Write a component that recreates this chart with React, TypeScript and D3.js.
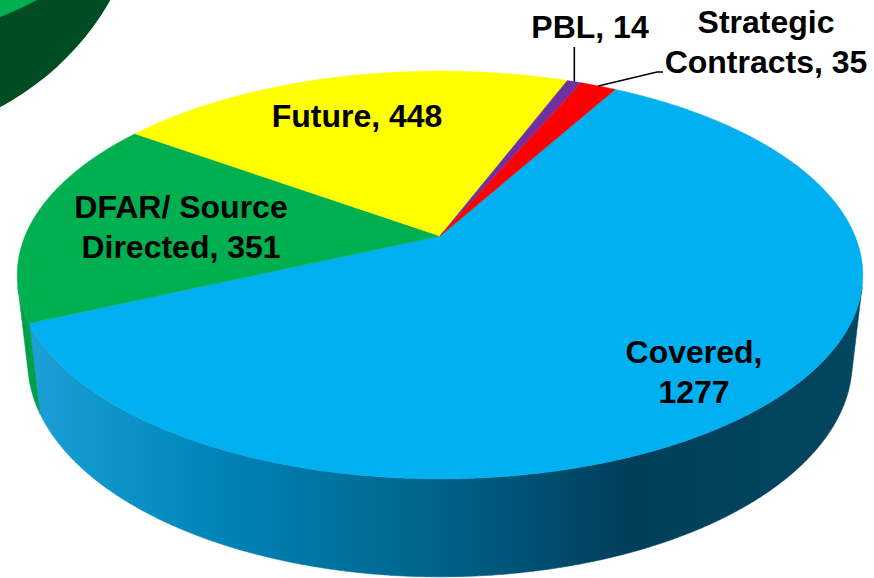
import React, { useEffect, useRef } from 'react'
import * as d3 from 'd3'

// slices, in the order they run clockwise from the start angle
const labels = ['Covered', 'DFAR/ Source Directed', 'Future', 'PBL', 'Strategic Contracts']
const values = [1277, 351, 448, 14, 35]
const colors = ['#00b0f0', '#00b050', '#ffff00', '#7030a0', '#ff0000']
const wallColors = ['url(#wallBlue)', '#00a04a', '#e6e600', '#5e2888', '#d90000']
// words kept on the first line of each label (0 = one line)
const breakAfter = [1, 2, 0, 0, 1]

const W = 874
const H = 578

const App = () => {
  const svgRef = useRef<SVGSVGElement | null>(null)

  useEffect(() => {
    const svg = d3.select(svgRef.current)
    svg.selectAll('*').remove()

    // perspective of the tilted pie
    const cx = 440
    const cy = 236
    const R = 415
    const D = 1913
    const tilt = (28.25 * Math.PI) / 180
    const depth = 99.5
    const start = (29.5 * Math.PI) / 180

    const proj = (a: number, y: number): [number, number] => {
      const X = R * Math.sin(a)
      const Z = -R * Math.cos(a)
      const yv = Z * Math.sin(tilt) - y * Math.cos(tilt)
      const zd = Z * Math.cos(tilt) + y * Math.sin(tilt)
      const s = D / (D - zd)
      return [cx + X * s, cy + yv * s]
    }
    const arcPts = (a0: number, a1: number, y: number) => {
      const n = Math.max(2, Math.ceil(Math.abs(a1 - a0) / 0.005))
      return d3.range(n + 1).map((i) => proj(a0 + ((a1 - a0) * i) / n, y))
    }
    const line = d3.line()

    const pie = d3
      .pie<number>()
      .sort(null)
      .value((d) => d)
      .startAngle(start)
      .endAngle(start + 2 * Math.PI)
    const slices = pie(values)

    const defs = svg.append('defs')
    const grad = defs
      .append('linearGradient')
      .attr('id', 'wallBlue')
      .attr('gradientUnits', 'userSpaceOnUse')
      .attr('x1', 17)
      .attr('x2', 863)
      .attr('y1', 0)
      .attr('y2', 0)
    const stops: [number, string][] = [
      [0, '#1ea2da'],
      [0.22, '#0087b9'],
      [0.48, '#00658d'],
      [0.72, '#003f5b'],
      [1, '#03465f'],
    ]
    stops.forEach(([o, c]) => grad.append('stop').attr('offset', o).attr('stop-color', c))

    // cropped neighbour shape in the top-left corner
    svg.append('ellipse').attr('cx', -150).attr('cy', -120).attr('rx', 292).attr('ry', 265).attr('fill', '#004d23')
    svg.append('ellipse').attr('cx', -160).attr('cy', -150).attr('rx', 306).attr('ry', 196).attr('fill', '#00b050')

    // side wall: only the front-facing band is visible
    const k = R / (D * Math.cos(tilt))
    const vis0 = Math.PI / 2 + Math.asin(k)
    const vis1 = (3 * Math.PI) / 2 - Math.asin(k)
    slices.forEach((s, i) => {
      ;[0, 2 * Math.PI].forEach((off) => {
        const a0 = Math.max(s.startAngle, vis0 + off)
        const a1 = Math.min(s.endAngle, vis1 + off)
        if (a1 <= a0) return
        const pts = arcPts(a0, a1, 0).concat(arcPts(a1, a0, -depth))
        svg
          .append('path')
          .attr('d', line(pts) + 'Z')
          .attr('fill', wallColors[i])
          .attr('stroke', wallColors[i])
          .attr('stroke-width', 0.6)
      })
    })

    // top faces
    slices.forEach((s, i) => {
      const pts = [proj(0, 0) as [number, number]]
      const apex: [number, number] = [cx, cy]
      const path = [apex].concat(arcPts(s.startAngle, s.endAngle, 0))
      svg
        .append('path')
        .attr('d', line(path) + 'Z')
        .attr('fill', colors[i])
        .attr('stroke', colors[i])
        .attr('stroke-width', 0.5)
        .attr('stroke-linejoin', 'round')
      void pts
    })

    // labels
    const labelPos: [number, number][] = [
      [694, 363],
      [181, 218],
      [357, 127],
      [590, 38],
      [766, 33],
    ]
    slices.forEach((s, i) => {
      const words = `${labels[i]}, ${values[i]}`.split(' ')
      const rows = breakAfter[i] ? [words.slice(0, breakAfter[i]).join(' '), words.slice(breakAfter[i]).join(' ')] : [words.join(' ')]
      const t = svg
        .append('text')
        .attr('x', labelPos[i][0])
        .attr('y', labelPos[i][1])
        .attr('text-anchor', 'middle')
        .style('font-family', '"Liberation Sans", Arial, sans-serif')
        .style('font-weight', 'bold')
        .style('font-size', '32px')
        .attr('fill', '#000')
      rows.forEach((r, j) => {
        t.append('tspan').attr('x', labelPos[i][0]).attr('dy', j === 0 ? 0 : 40).text(r)
      })
    })

    // leader lines for the two thin slices
    const edge = (s: d3.PieArcDatum<number>) => proj((s.startAngle + s.endAngle) / 2, 0)
    const pbl = edge(slices[3])
    svg
      .append('path')
      .attr('d', line([pbl, [pbl[0], 47]]))
      .attr('stroke', '#000')
      .attr('stroke-width', 1.6)
      .attr('fill', 'none')
    const strat = edge(slices[4])
    svg
      .append('path')
      .attr('d', line([strat, [657, 72], [663, 72]]))
      .attr('stroke', '#000')
      .attr('stroke-width', 1.6)
      .attr('fill', 'none')
  }, [])

  return (
    <svg
      ref={svgRef}
      width={W}
      height={H}
      style={{ position: 'absolute', left: 0, top: 0, background: '#fff' }}
    ></svg>
  )
}

export default App
